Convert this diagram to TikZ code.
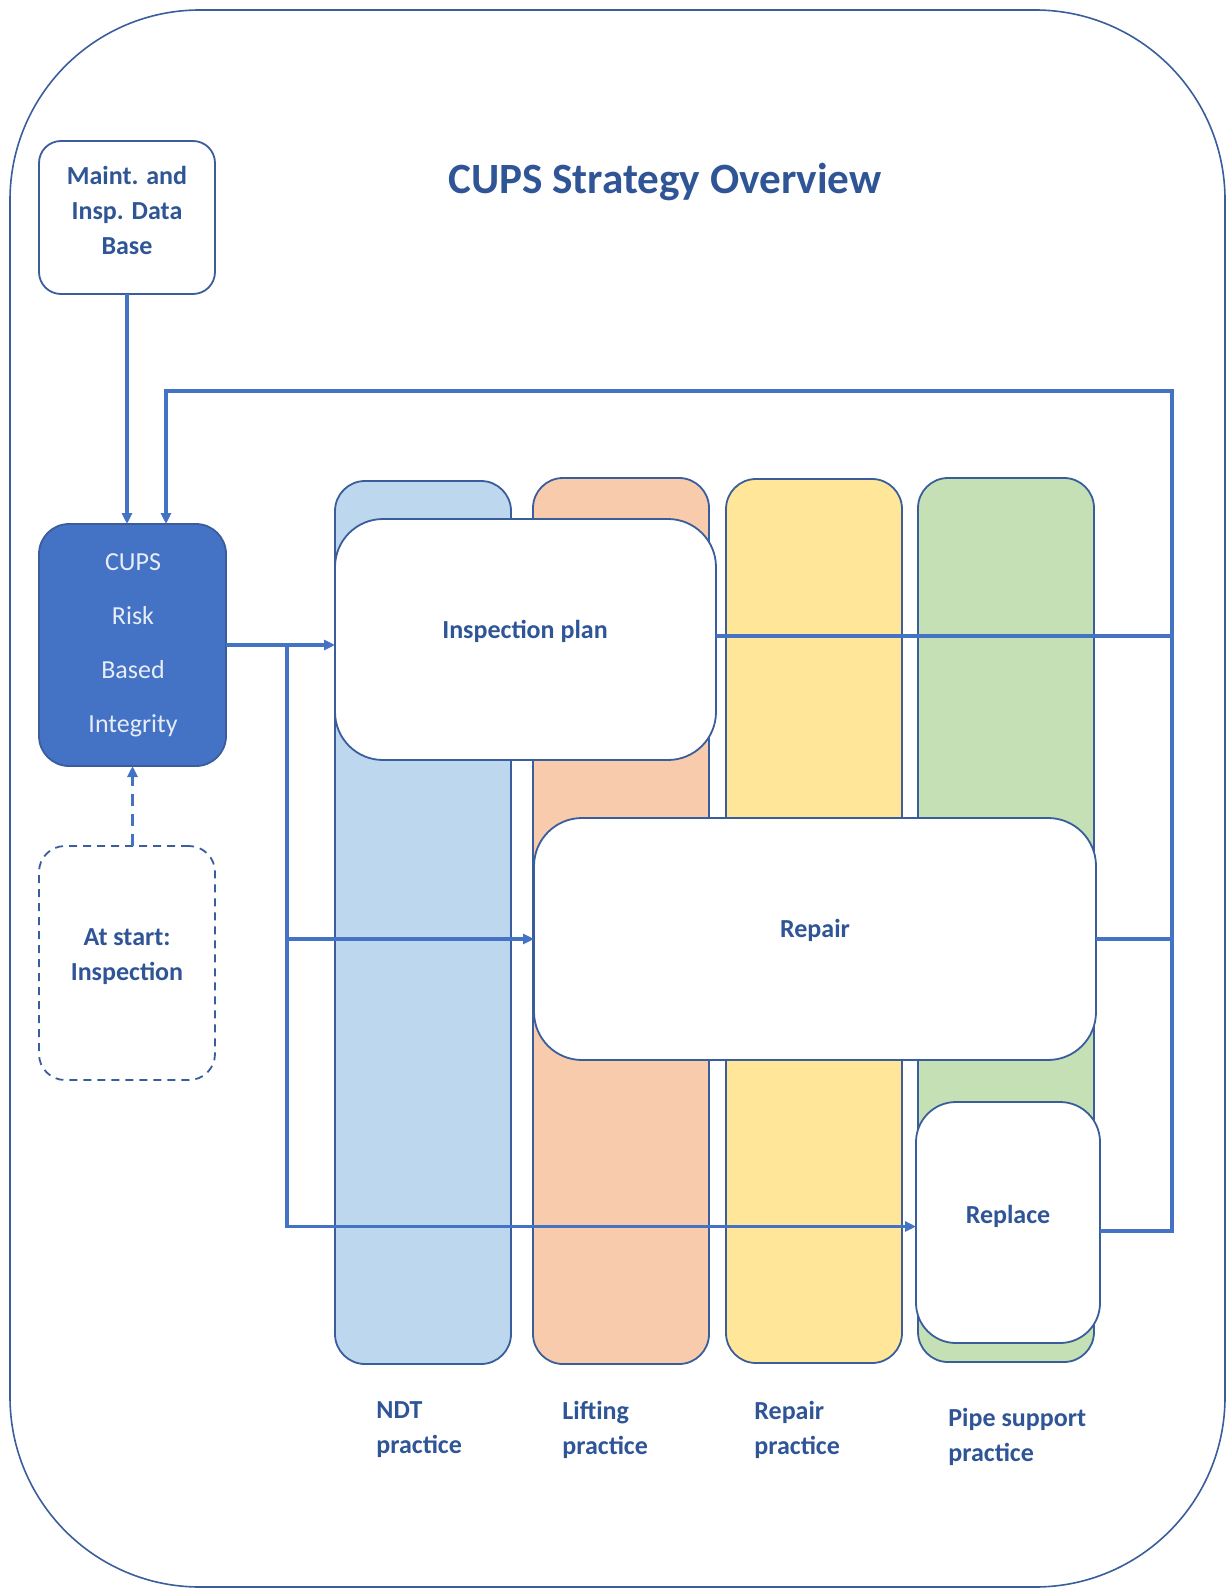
\documentclass[tikz,border=0pt]{standalone}
\usepackage{fontspec}
\setmainfont{Carlito}
\usetikzlibrary{arrows.meta,fit}
\definecolor{linkblue}{HTML}{4472C4}
\definecolor{edgeblue}{HTML}{3A5D9C}
\definecolor{textblue}{HTML}{2F5597}
\definecolor{cupsfill}{HTML}{4472C4}
\definecolor{cupstext}{HTML}{E6EDF8}
\definecolor{ndtfill}{HTML}{BDD7EE}
\definecolor{liftfill}{HTML}{F8CBAD}
\definecolor{repfill}{HTML}{FFE699}
\definecolor{pipefill}{HTML}{C5E0B4}
\begin{document}
\begin{tikzpicture}[x=0.5pt,y=-0.5pt,
  panel/.style={draw=edgeblue, line width=0.9pt, rounded corners=#1,
    inner sep=0pt, outer sep=0pt},
  panel/.default=15pt,
  lane/.style={panel=15pt, fill=#1},
  whitebox/.style={panel=#1, fill=white},
  flow/.style={draw=linkblue, line width=1.7pt},
  tip/.style={-{Triangle[length=5.5pt,width=5pt]}},
  txt/.style={text=textblue, font=\fontsize{13}{17.5}\selectfont\bfseries, align=center, inner sep=0pt},
  lbl/.style={text=textblue, font=\fontsize{13}{17.5}\selectfont\bfseries, align=left, anchor=west, inner sep=0pt}]
  \useasboundingbox (0,0) rectangle (1226,1588);

  % outer frame
  \node[panel=95pt, draw=edgeblue, line width=0.8pt, fit={(10,10) (1225,1587)}] (frame) {};

  % title
  \node[text=textblue, font=\fontsize{21.6}{26}\selectfont\bfseries, inner sep=0pt] (title) at (665,182) {CUPS Strategy Overview};

  % left column of boxes
  \node[whitebox=11pt, fit={(39,141) (215,294)}] (maint) {};
  \node[txt] (mainttext) at (127,210) {Maint. and\\Insp. Data\\Base};

  \node[panel=15pt, fill=cupsfill, fit={(39,524) (226,766)}] (cups) {};
  \node[text=cupstext, font=\fontsize{13}{27}\selectfont, align=center, inner sep=0pt] (cupstxt) at (133,645) {CUPS\\Risk\\Based\\Integrity};

  \node[panel=13pt, fill=white, dash pattern=on 4pt off 3pt, fit={(39,846) (215,1080)}] (start) {};
  \node[txt] (starttext) at (127,957) {At start:\\Inspection};

  % practice lanes
  \node[lane=ndtfill,  fit={(335,481) (511,1364)}] (ndt) {};
  \node[lane=liftfill, fit={(533,478) (709,1364)}] (lift) {};
  \node[lane=repfill,  fit={(726,479) (902,1363)}] (reppr) {};
  \node[lane=pipefill, fit={(918,478) (1094,1362)}] (pipe) {};

  % activity boxes laid over the lanes
  \node[whitebox=24pt, fit={(335,519) (716,760)}] (ip) {};
  \node[txt] (iptext) at (525,631) {Inspection plan};
  \node[whitebox=24pt, fit={(534,818) (1096,1060)}] (repair) {};
  \node[txt] (repairtext) at (815,930) {Repair};
  \node[whitebox=20pt, fit={(916,1102) (1100,1343)}] (replace) {};
  \node[txt] (replacetext) at (1008,1216) {Replace};

  % lane captions
  \node[lbl] (ndtlbl)  at (376,1430) {NDT\\practice};
  \node[lbl] (liftlbl) at (562,1430) {Lifting\\practice};
  \node[lbl] (replbl)  at (754,1430) {Repair\\practice};
  \node[lbl] (pipelbl) at (948,1437) {Pipe support\\practice};

  % connectors
  \draw[flow, tip] (maint.south) -- (maint.south |- cups.north);

  \coordinate (rtop) at (1172,391);
  \coordinate (ltop) at (166,391);
  \coordinate (rlow) at (1172,1231);
  \coordinate (rmid) at (1172,636);
  \draw[flow, tip] (replace.east |- rlow) -- (rlow) -- (rtop) -- (ltop) -- (ltop |- cups.north);
  \draw[flow] (ip.east |- rmid) -- (rmid);
  \draw[flow] (repair.east) -- (repair.east -| rtop);

  \path (cups.east) ++(61,0) coordinate (fork);
  \draw[flow, tip] (cups.east) -- (ip.west |- cups.east);
  \draw[flow, tip] (fork) |- (repair.west);
  \draw[flow, tip] (fork) |- ([yshift=-2pt]replace.west);

  \draw[flow, tip, dash pattern=on 6pt off 4pt] (start.north -| cups.south) -- (cups.south);
\end{tikzpicture}
\end{document}
